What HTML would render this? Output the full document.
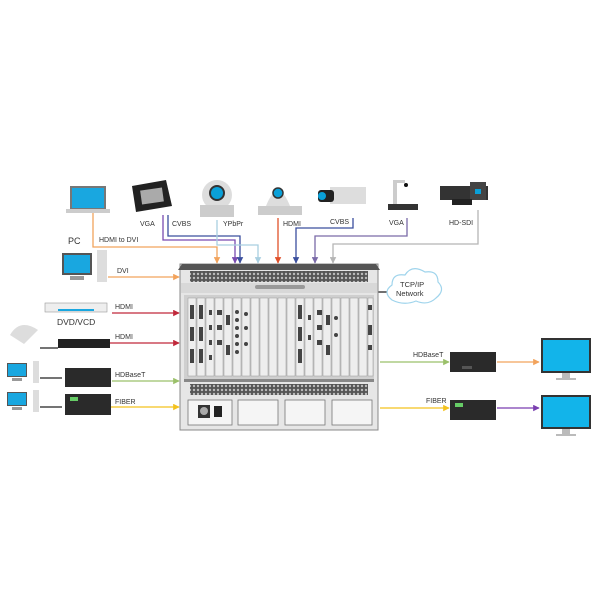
<!DOCTYPE html>
<html><head><meta charset="utf-8"><style>
html,body{margin:0;padding:0;background:#fff;}
svg{display:block;}
text{font-family:"Liberation Sans",sans-serif;font-size:7px;fill:#333;}
</style></head><body>
<svg width="600" height="600" viewBox="0 0 600 600" xmlns="http://www.w3.org/2000/svg">
<defs>
<pattern id="vent" width="4" height="4" patternUnits="userSpaceOnUse"><rect width="4" height="4" fill="#555"/><circle cx="2" cy="2" r="1.2" fill="#bbb"/></pattern>
<marker id="ah" viewBox="0 0 10 10" refX="9" refY="5" markerWidth="5" markerHeight="5" orient="auto"><path d="M0,0L10,5L0,10z" fill="context-stroke"/></marker>
</defs>

<!-- connectors top -->
<g fill="none" stroke-width="1.3">
<path d="M93,213V247H217V263" stroke="#f2a35c" marker-end="url(#ah)"/>
<path d="M163,215V240H235V263" stroke="#7a4bb0" marker-end="url(#ah)"/>
<path d="M168,215V236H240V263" stroke="#3b4f9e" marker-end="url(#ah)"/>
<path d="M217,220V245H258V263" stroke="#a9cfe0" marker-end="url(#ah)"/>
<path d="M278,218V263" stroke="#e0502a" marker-end="url(#ah)"/>
<path d="M353,218V228H296V263" stroke="#3b4f9e" marker-end="url(#ah)"/>
<path d="M407,218V236H315V263" stroke="#7a6aa8" marker-end="url(#ah)"/>
<path d="M478,210V244H333V263" stroke="#b5b5b5" marker-end="url(#ah)"/>
<!-- left -->
<path d="M108,277H179" stroke="#f2a35c" marker-end="url(#ah)"/>
<path d="M112,313H179" stroke="#c0283a" marker-end="url(#ah)"/>
<path d="M110,343H179" stroke="#c0283a" marker-end="url(#ah)"/>
<path d="M112,381H179" stroke="#9bc06a" marker-end="url(#ah)"/>
<path d="M110,407H179" stroke="#f4c21e" marker-end="url(#ah)"/>
<path d="M40,378H62" stroke="#222"/>
<path d="M40,407H62" stroke="#222"/>
<path d="M40,348H58" stroke="#222"/>
<!-- right -->
<path d="M380,362H449" stroke="#9bc06a" marker-end="url(#ah)"/>
<path d="M497,362H539" stroke="#f2a35c" marker-end="url(#ah)"/>
<path d="M380,408H449" stroke="#f4c21e" marker-end="url(#ah)"/>
<path d="M497,408H539" stroke="#7a3fb0" marker-end="url(#ah)"/>
<path d="M378,292H388" stroke="#222"/>
</g>

<!-- top devices -->
<rect x="70" y="186" width="36" height="24" fill="#777"/><rect x="72" y="188" width="32" height="20" fill="#19a7e0"/>
<rect x="66" y="209" width="44" height="4" fill="#ccc"/>
<polygon points="132,186 166,180 172,206 136,212" fill="#222"/><rect x="141" y="189" width="22" height="14" fill="#aaa" transform="rotate(-8 152 196)"/>
<circle cx="217" cy="195" r="15" fill="#ddd"/><rect x="200" y="205" width="34" height="12" fill="#ccc"/><circle cx="217" cy="193" r="7" fill="#0aa0d8" stroke="#333" stroke-width="2"/>
<rect x="258" y="206" width="44" height="9" fill="#ccc"/><path d="M266,206 Q278,176 290,206z" fill="#ddd"/><circle cx="278" cy="193" r="5" fill="#0aa0d8" stroke="#333" stroke-width="1.5"/>
<rect x="330" y="187" width="36" height="17" fill="#ddd"/><rect x="318" y="190" width="16" height="12" rx="3" fill="#222"/><circle cx="322" cy="196" r="4" fill="#0aa0d8"/>
<rect x="393" y="180" width="4" height="25" fill="#ccc"/><rect x="393" y="180" width="12" height="3" fill="#ccc"/><circle cx="406" cy="185" r="2" fill="#111"/><rect x="388" y="204" width="30" height="6" fill="#333"/>
<rect x="440" y="186" width="48" height="14" fill="#333"/><rect x="470" y="182" width="16" height="18" fill="#444"/><rect x="475" y="189" width="6" height="5" fill="#0aa0d8"/><rect x="452" y="199" width="20" height="6" fill="#222"/>

<!-- left devices -->
<rect x="62" y="253" width="30" height="22" fill="#555"/><rect x="64" y="255" width="26" height="18" fill="#19a7e0"/><rect x="70" y="276" width="14" height="4" fill="#999"/><rect x="97" y="250" width="10" height="32" fill="#ddd"/>
<rect x="45" y="303" width="62" height="9" fill="#eee" stroke="#999" stroke-width="0.6"/><rect x="58" y="309" width="36" height="2" fill="#19a7e0"/>
<path d="M10,335 Q20,318 38,330 L24,344z" fill="#ddd"/>
<rect x="58" y="339" width="52" height="9" fill="#222"/>
<rect x="7" y="363" width="20" height="14" fill="#555"/><rect x="8" y="364" width="18" height="12" fill="#19a7e0"/><rect x="12" y="378" width="10" height="3" fill="#999"/><rect x="33" y="361" width="6" height="22" fill="#ddd"/>
<rect x="7" y="392" width="20" height="14" fill="#555"/><rect x="8" y="393" width="18" height="12" fill="#19a7e0"/><rect x="12" y="407" width="10" height="3" fill="#999"/><rect x="33" y="390" width="6" height="22" fill="#ddd"/>
<rect x="65" y="368" width="46" height="19" fill="#2a2a2a"/>
<rect x="65" y="394" width="46" height="21" fill="#2a2a2a"/><rect x="70" y="397" width="8" height="4" fill="#6c6"/>

<!-- chassis -->
<rect x="180" y="264" width="198" height="166" fill="#e6e6e6" stroke="#888" stroke-width="1"/>
<polygon points="182,264 376,264 380,270 178,270" fill="#555"/>
<rect x="190" y="271" width="178" height="11" fill="url(#vent)"/>
<rect x="181" y="283" width="196" height="10" fill="#d8d8d8"/>
<rect x="255" y="285" width="50" height="4" rx="2" fill="#999"/>
<rect x="184" y="295" width="190" height="84" fill="#cfcfcf"/>
<g fill="#eee" stroke="#999" stroke-width="0.5">
<rect x="188" y="298" width="8" height="78"/><rect x="197" y="298" width="8" height="78"/><rect x="206" y="298" width="8" height="78"/><rect x="215" y="298" width="8" height="78"/><rect x="224" y="298" width="8" height="78"/><rect x="233" y="298" width="8" height="78"/><rect x="242" y="298" width="8" height="78"/><rect x="251" y="298" width="8" height="78"/><rect x="260" y="298" width="8" height="78"/><rect x="269" y="298" width="8" height="78"/><rect x="278" y="298" width="8" height="78"/><rect x="287" y="298" width="8" height="78"/><rect x="296" y="298" width="8" height="78"/><rect x="305" y="298" width="8" height="78"/><rect x="314" y="298" width="8" height="78"/><rect x="323" y="298" width="8" height="78"/><rect x="332" y="298" width="8" height="78"/><rect x="341" y="298" width="8" height="78"/><rect x="350" y="298" width="8" height="78"/><rect x="359" y="298" width="8" height="78"/><rect x="368" y="298" width="5" height="78"/>
</g>
<g fill="#444">
<rect x="190" y="305" width="4" height="14"/><rect x="190" y="327" width="4" height="14"/><rect x="190" y="349" width="4" height="14"/>
<rect x="199" y="305" width="4" height="14"/><rect x="199" y="327" width="4" height="14"/><rect x="199" y="349" width="4" height="14"/>
<rect x="209" y="310" width="3" height="5"/><rect x="209" y="325" width="3" height="5"/><rect x="209" y="340" width="3" height="5"/><rect x="209" y="355" width="3" height="5"/>
<rect x="217" y="310" width="5" height="5"/><rect x="217" y="325" width="5" height="5"/><rect x="217" y="340" width="5" height="5"/>
<rect x="226" y="315" width="4" height="10"/><rect x="226" y="345" width="4" height="10"/>
<circle cx="237" cy="312" r="2"/><circle cx="237" cy="320" r="2"/><circle cx="237" cy="328" r="2"/><circle cx="237" cy="336" r="2"/><circle cx="237" cy="344" r="2"/><circle cx="237" cy="352" r="2"/>
<circle cx="246" cy="314" r="2"/><circle cx="246" cy="328" r="2"/><circle cx="246" cy="344" r="2"/>
<rect x="298" y="305" width="4" height="14"/><rect x="298" y="327" width="4" height="14"/><rect x="298" y="349" width="4" height="14"/>
<rect x="308" y="315" width="3" height="5"/><rect x="308" y="335" width="3" height="5"/>
<rect x="317" y="310" width="5" height="5"/><rect x="317" y="325" width="5" height="5"/><rect x="317" y="340" width="5" height="5"/>
<rect x="326" y="315" width="4" height="10"/><rect x="326" y="345" width="4" height="10"/>
<circle cx="336" cy="318" r="2"/><circle cx="336" cy="335" r="2"/>
<rect x="368" y="305" width="4" height="5"/><rect x="368" y="325" width="4" height="10"/><rect x="368" y="345" width="4" height="5"/>
</g>
<rect x="184" y="379" width="190" height="3" fill="#888"/>
<rect x="190" y="384" width="178" height="11" fill="url(#vent)"/>
<g fill="#f5f5f5" stroke="#777" stroke-width="0.8">
<rect x="188" y="400" width="44" height="25"/><rect x="238" y="400" width="40" height="25"/><rect x="285" y="400" width="40" height="25"/><rect x="332" y="400" width="40" height="25"/>
</g>
<rect x="198" y="405" width="12" height="13" fill="#333"/><circle cx="204" cy="411" r="4" fill="#aaa"/><rect x="214" y="406" width="8" height="11" fill="#222"/>

<!-- cloud -->
<g fill="#fff" stroke="#9fd4ec" stroke-width="1.2">
<path d="M392,300 Q382,292 392,285 Q392,273 405,275 Q412,264 425,272 Q438,270 438,282 Q446,290 436,298 Q428,306 416,301 Q404,306 392,300z"/>
</g>
<text x="400" y="287" style="font-size:7.5px">TCP/IP</text>
<text x="396" y="296" style="font-size:7.5px">Network</text>

<!-- right devices -->
<rect x="450" y="352" width="46" height="20" fill="#2a2a2a"/><rect x="462" y="366" width="10" height="3" fill="#555"/>
<rect x="450" y="400" width="46" height="20" fill="#2a2a2a"/><rect x="455" y="403" width="8" height="4" fill="#6c6"/>
<rect x="541" y="338" width="50" height="35" fill="#333"/><rect x="543" y="340" width="46" height="31" fill="#12b4ea"/><rect x="562" y="373" width="8" height="5" fill="#bbb"/><rect x="556" y="378" width="20" height="2" fill="#bbb"/>
<rect x="541" y="395" width="50" height="34" fill="#333"/><rect x="543" y="397" width="46" height="30" fill="#12b4ea"/><rect x="562" y="429" width="8" height="5" fill="#bbb"/><rect x="556" y="434" width="20" height="2" fill="#bbb"/>

<!-- labels -->
<text x="140" y="226">VGA</text><text x="172" y="226">CVBS</text><text x="223" y="226">YPbPr</text>
<text x="283" y="226">HDMI</text><text x="330" y="224">CVBS</text><text x="389" y="225">VGA</text><text x="449" y="225">HD-SDI</text>
<text x="99" y="242">HDMI to DVI</text>
<text x="68" y="244" style="font-size:9px">PC</text>
<text x="117" y="273">DVI</text>
<text x="115" y="309">HDMI</text>
<text x="57" y="325" style="font-size:8.5px">DVD/VCD</text>
<text x="115" y="339">HDMI</text>
<text x="115" y="377">HDBaseT</text>
<text x="115" y="404">FIBER</text>
<text x="413" y="357">HDBaseT</text>
<text x="426" y="403">FIBER</text>
</svg>
</body></html>
